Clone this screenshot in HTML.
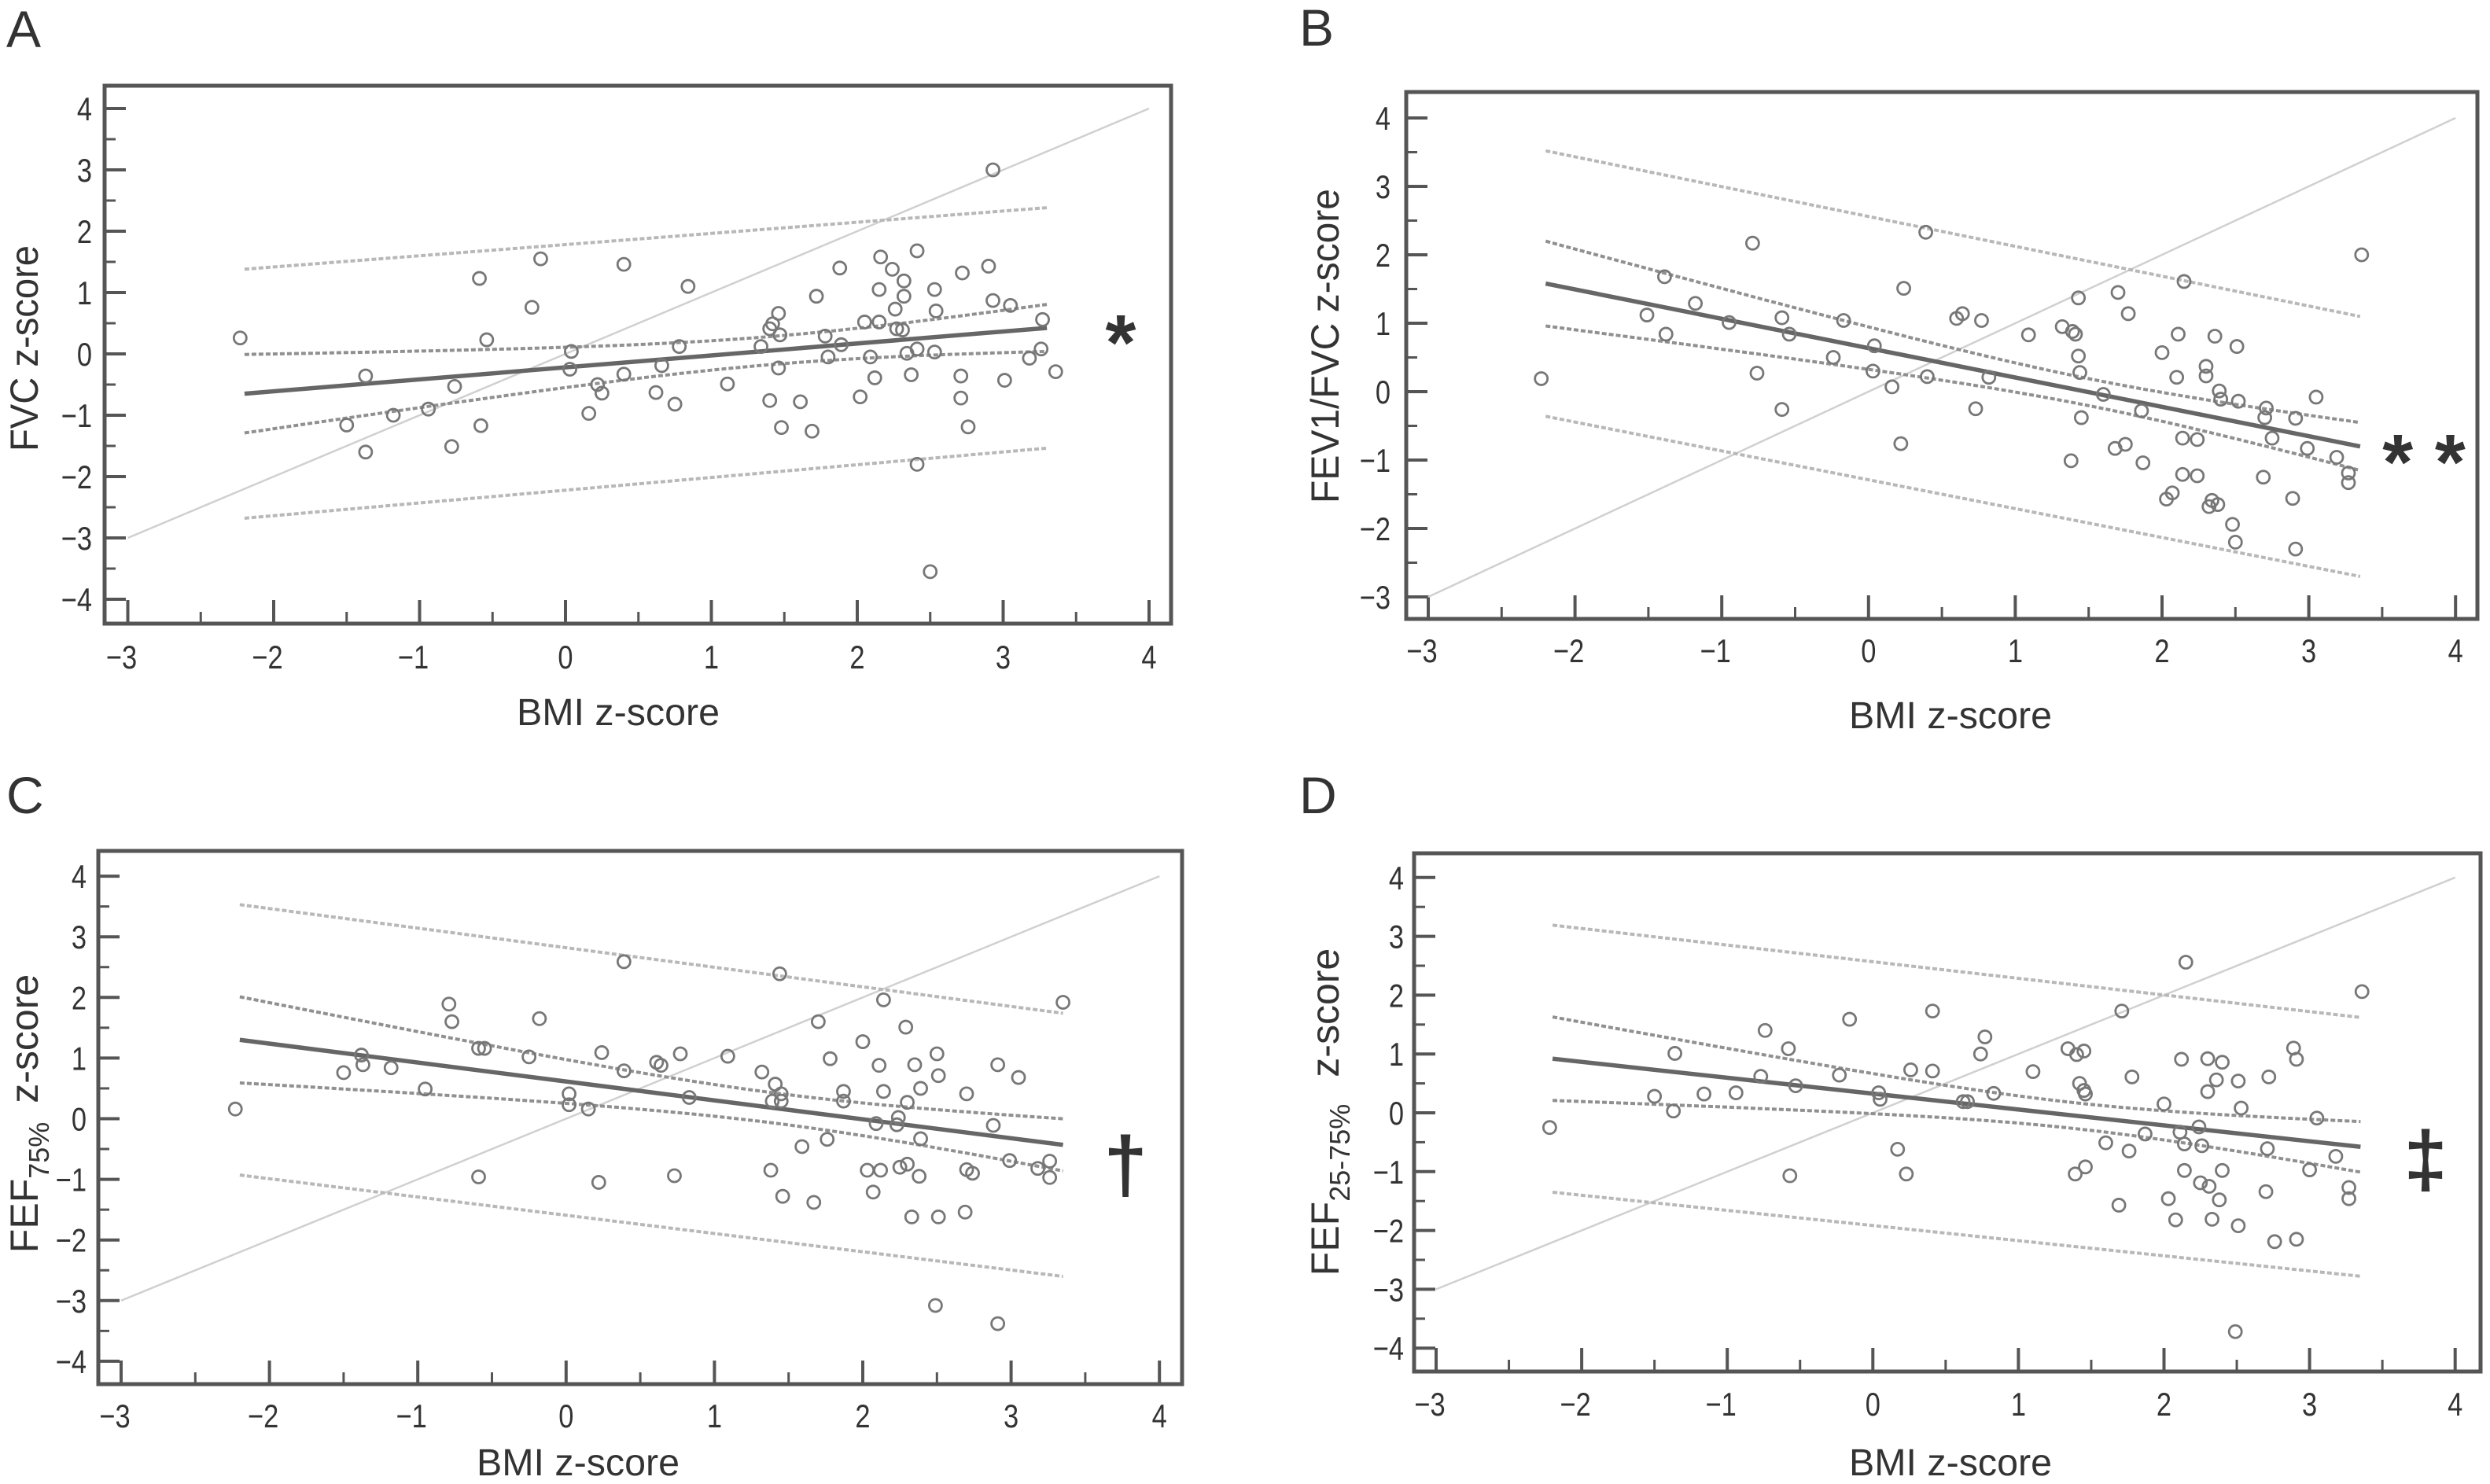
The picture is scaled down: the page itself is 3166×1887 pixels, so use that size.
<!DOCTYPE html>
<html><head><meta charset="utf-8"><style>
html,body{margin:0;padding:0;background:#fff;}
svg{display:block;}
text{font-family:"Liberation Sans",sans-serif;fill:#333;}
</style></head><body>
<svg id="fig" width="3166" height="1887" viewBox="0 0 3166 1887" xmlns="http://www.w3.org/2000/svg">
<text x="8" y="60" font-size="66">A</text>
<text x="1652" y="58" font-size="66">B</text>
<text x="8" y="1034" font-size="66">C</text>
<text x="1652" y="1034" font-size="66">D</text>

<text transform="translate(48,443) rotate(-90)" text-anchor="middle" font-size="50" textLength="262" lengthAdjust="spacingAndGlyphs">FVC z-score</text>
<text transform="translate(1702,440) rotate(-90)" text-anchor="middle" font-size="50" textLength="400" lengthAdjust="spacingAndGlyphs">FEV1/FVC z-score</text>
<text transform="translate(48,1416) rotate(-90)" text-anchor="middle" font-size="50">FEF<tspan font-size="36" dy="14">75%</tspan><tspan dy="-14" dx="24">z-score</tspan></text>
<text transform="translate(1702,1414) rotate(-90)" text-anchor="middle" font-size="50">FEF<tspan font-size="36" dy="14">25-75%</tspan><tspan dy="-14" dx="34">z-score</tspan></text>

<text x="786" y="922" text-anchor="middle" font-size="48" textLength="258" lengthAdjust="spacingAndGlyphs">BMI z-score</text>
<text x="2480" y="926" text-anchor="middle" font-size="48" textLength="258" lengthAdjust="spacingAndGlyphs">BMI z-score</text>
<text x="735" y="1876" text-anchor="middle" font-size="48" textLength="258" lengthAdjust="spacingAndGlyphs">BMI z-score</text>
<text x="2480" y="1876" text-anchor="middle" font-size="48" textLength="258" lengthAdjust="spacingAndGlyphs">BMI z-score</text>

<text x="1425" y="470" text-anchor="middle" font-size="100" font-weight="bold" fill="#333">*</text>
<text x="3082" y="622" text-anchor="middle" font-size="100" font-weight="bold" fill="#333">* *</text>
<text x="1431" y="1515" text-anchor="middle" font-size="100" font-weight="bold" fill="#333">†</text>
<text x="3084" y="1508" text-anchor="middle" font-size="100" font-weight="bold" fill="#333">‡</text>
</svg>
<script>
// ---- Panel A data ----
const aX=[-2.23,-1.37,-1.37,-1.5,-1.18,-0.94,-0.78,-0.76,-0.59,-0.58,-0.54,-0.23,-0.17,0.04,0.03,0.16,0.22,0.25,0.40,0.40,0.62,0.66,0.75,0.78,0.84,1.11,1.34,1.40,1.40,1.42,1.46,1.47,1.46,1.48,1.61,1.69,1.72,1.78,1.80,1.88,1.89,2.02,2.05,2.09,2.12,2.15,2.15,2.16,2.24,2.26,2.27,2.31,2.32,2.32,2.34,2.37,2.41,2.41,2.41,2.53,2.54,2.53,2.50,2.71,2.71,2.72,2.76,2.90,2.93,2.93,3.01,3.05,3.18,3.26,3.27,3.36];
const aY=[0.26,-0.36,-1.6,-1.16,-1.0,-0.9,-1.51,-0.53,1.23,-1.17,0.23,0.76,1.55,0.04,-0.25,-0.97,-0.5,-0.64,1.46,-0.33,-0.63,-0.19,-0.82,0.12,1.1,-0.49,0.12,0.41,-0.76,0.49,0.66,0.31,-0.23,-1.2,-0.78,-1.26,0.94,0.29,-0.05,1.4,0.15,-0.7,0.52,-0.05,-0.39,1.05,0.52,1.58,1.38,0.73,0.41,0.39,0.94,1.19,0.01,-0.34,0.08,1.68,-1.8,1.05,0.7,0.03,-3.55,-0.36,-0.72,1.32,-1.19,1.43,3.0,0.87,-0.43,0.79,-0.07,0.08,0.56,-0.29];
const aFit=[-0.22,0.195];
const aFitRange=[-2.2,3.3];
const aCI=[0.64,0.23,0.39];
const aPI=[2.03,1.96];
// ---- Panel B data ----
const bX=[-2.23,-1.51,-1.39,-1.38,-1.18,-0.95,-0.79,-0.76,-0.59,-0.59,-0.54,-0.17,-0.24,0.03,0.04,0.16,0.22,0.24,0.39,0.40,0.60,0.64,0.73,0.77,0.82,1.09,1.32,1.38,1.39,1.41,1.43,1.43,1.44,1.45,1.6,1.68,1.70,1.75,1.77,1.86,1.87,2.00,2.03,2.07,2.10,2.11,2.14,2.14,2.15,2.24,2.24,2.30,2.30,2.32,2.34,2.36,2.38,2.39,2.40,2.48,2.50,2.51,2.52,2.69,2.71,2.70,2.75,2.89,2.91,2.91,2.99,3.05,3.19,3.27,3.27,3.36];
const bY=[0.19,1.12,1.68,0.84,1.29,1.01,2.17,0.27,1.08,-0.26,0.84,1.04,0.5,0.3,0.67,0.07,-0.76,1.51,2.33,0.22,1.07,1.14,-0.25,1.04,0.21,0.83,0.95,-1.01,0.88,0.84,1.37,0.52,0.28,-0.38,-0.04,-0.83,1.45,-0.77,1.14,-0.28,-1.04,0.57,-1.57,-1.48,0.21,0.84,-0.68,-1.21,1.61,-0.7,-1.23,0.37,0.23,-1.68,-1.59,0.81,-1.65,0.01,-0.11,-1.94,-2.2,0.66,-0.14,-1.25,-0.24,-0.38,-0.68,-1.56,-2.3,-0.39,-0.83,-0.08,-0.96,-1.19,-1.33,2.0];
const bFit=[0.636,-0.429];
const bFitRange=[-2.2,3.35];
const bCI=[0.62,0.2,0.35];
const bPI=[1.94,1.9];
// ---- Panel C data ----
const cX=[-2.23,-1.50,-1.38,-1.37,-1.18,-0.95,-0.79,-0.77,-0.59,-0.59,-0.55,-0.25,-0.18,0.02,0.02,0.15,0.22,0.24,0.39,0.39,0.61,0.64,0.73,0.77,0.83,1.09,1.32,1.38,1.39,1.41,1.44,1.45,1.45,1.46,1.59,1.67,1.70,1.76,1.78,1.87,1.87,2.00,2.03,2.07,2.09,2.11,2.12,2.14,2.14,2.23,2.24,2.25,2.29,2.30,2.30,2.33,2.35,2.38,2.39,2.39,2.49,2.50,2.51,2.51,2.69,2.70,2.70,2.74,2.88,2.91,2.91,2.99,3.05,3.18,3.26,3.26,3.35];
const cY=[0.16,0.76,1.05,0.89,0.84,0.49,1.89,1.6,1.16,-0.96,1.16,1.02,1.65,0.41,0.23,0.16,-1.05,1.09,2.59,0.79,0.93,0.88,-0.94,1.07,0.35,1.03,0.77,-0.85,0.29,0.57,2.39,0.41,0.29,-1.28,-0.46,-1.38,1.6,-0.34,0.99,0.45,0.29,1.27,-0.85,-1.21,-0.08,0.88,-0.85,0.45,1.96,-0.1,0.02,-0.8,1.51,-0.75,0.27,-1.62,0.89,-0.95,0.5,-0.33,-3.08,1.07,0.71,-1.62,-1.54,-0.84,0.41,-0.9,-0.11,0.89,-3.38,-0.69,0.68,-0.82,-0.7,-0.97,1.92];
const cFit=[0.614,-0.312];
const cFitRange=[-2.2,3.35];
const cCI=[0.71,0.25,0.43];
const cPI=[2.23,2.17];
// ---- Panel D data ----
const dX=[-2.22,-1.50,-1.37,-1.36,-1.16,-0.94,-0.77,-0.74,-0.58,-0.57,-0.53,-0.23,-0.16,0.04,0.05,0.17,0.23,0.26,0.41,0.41,0.62,0.65,0.74,0.77,0.83,1.10,1.34,1.39,1.40,1.42,1.45,1.45,1.46,1.46,1.60,1.69,1.71,1.76,1.78,1.87,2.00,2.03,2.08,2.11,2.12,2.14,2.14,2.15,2.24,2.25,2.26,2.30,2.30,2.31,2.33,2.36,2.38,2.40,2.40,2.49,2.51,2.51,2.53,2.70,2.71,2.72,2.76,2.89,2.91,2.91,3.00,3.05,3.18,3.27,3.27,3.36];
const dY=[-0.25,0.28,0.03,1.01,0.32,0.34,0.62,1.4,1.09,-1.07,0.46,0.64,1.59,0.34,0.23,-0.62,-1.04,0.73,1.73,0.71,0.19,0.19,1.0,1.29,0.33,0.7,1.09,-1.04,0.99,0.5,1.05,0.38,0.32,-0.92,-0.51,-1.57,1.73,-0.65,0.61,-0.36,0.15,-1.46,-1.82,-0.33,0.91,-0.53,-0.98,2.56,-0.24,-1.19,-0.56,0.92,0.36,-1.25,-1.81,0.56,-1.48,0.86,-0.98,-3.72,-1.92,0.54,0.08,-1.34,-0.61,0.61,-2.19,1.1,0.91,-2.15,-0.97,-0.09,-0.74,-1.27,-1.46,2.06];
const dFit=[0.326,-0.27];
const dFitRange=[-2.2,3.35];
const dCI=[0.71,0.22,0.43];
const dPI=[2.27,2.2];
// ---- axis ticks ----
const xTicks=[-3,-2,-1,0,1,2,3,4];
const yTicksA=[-4,-3,-2,-1,0,1,2,3,4];
const yTicksB=[-3,-2,-1,0,1,2,3,4];

const NS='http://www.w3.org/2000/svg';
const svg=document.getElementById('fig');
function mk(tag,attrs,parent){const e=document.createElementNS(NS,tag);for(const k in attrs)e.setAttribute(k,attrs[k]);(parent||svg).appendChild(e);return e;}

const layouts={
 a:{box:[133,109,1489,793],x0:162.5,xu:185.5,y0:450,yu:78,lblR:117,xlb:848,yt:yTicksA},
 b:{box:[1788,117,3150,787],x0:1816,xu:186.6,y0:498,yu:87,lblR:1768,xlb:840,yt:yTicksB},
 c:{box:[125,1082,1503,1760],x0:154,xu:188.6,y0:1422.5,yu:77.1,lblR:110,xlb:1813,yt:yTicksA},
 d:{box:[1798,1085,3154,1744],x0:1826,xu:185.1,y0:1415,yu:74.8,lblR:1785,xlb:1798,yt:yTicksA}
};

function tickText(g,x,y,anchor,str,name){
  const tx=mk('text',{x:0,y:0,'text-anchor':anchor,'font-size':42,transform:'translate('+x+','+y+') scale(0.82,1)'},g);
  tx.textContent=str;
  
  
}

function drawPanel(id,X,Y,fit,fr,ci,pi){
  const L=layouts[id];
  const g=mk('g',{});
  
  
  const sx=v=>L.x0+(v+3)*L.xu;
  const sy=v=>L.y0-v*L.yu;
  const [l,t,r,b]=L.box;
  const yMin=L.yt[0],yMax=L.yt[L.yt.length-1];
  for(let v=yMin;v<=yMax+0.01;v+=0.5){
    const major=Math.abs(v-Math.round(v))<0.01;
    const tk=mk('line',{x1:l,x2:l+(major?27:14),y1:sy(v),y2:sy(v),stroke:'#555','stroke-width':major?4:3},g);
    
    
  }
  L.yt.forEach(v=>{
    tickText(g,L.lblR,sy(v)+15,'end',(v<0?'\u2212'+Math.abs(v):String(v)),'y-tick-label');
  });
  for(let v=-3;v<=4.01;v+=0.5){
    const major=Math.abs(v-Math.round(v))<0.01;
    const tk=mk('line',{x1:sx(v),x2:sx(v),y1:b,y2:b-(major?30:15),stroke:'#555','stroke-width':major?4:3},g);
    
    
  }
  xTicks.forEach(v=>{
    tickText(g,sx(v)-(v<0?8:0),L.xlb+2,'middle',(v<0?'\u2212'+Math.abs(v):String(v)),'x-tick-label');
  });
  const idl=mk('line',{x1:sx(-3),y1:sy(-3),x2:sx(4),y2:sy(4),stroke:'#d0d0d0','stroke-width':2.5},g);
  
  
  const f=x=>fit[0]+fit[1]*x;
  [1,-1].forEach(s=>{
    const x1=fr[0],x2=fr[1];
    const p=mk('line',{x1:sx(x1),y1:sy(f(x1)+s*pi[0]),x2:sx(x2),y2:sy(f(x2)+s*pi[1]),stroke:'#b8b8b8','stroke-width':4,'stroke-dasharray':'6 3'},g);
    
    
  });
  const xs=[-2.2,1.3,3.35],hs=ci.map(h=>h*h);
  const h2=x=>{let s=0;for(let i=0;i<3;i++){let term=hs[i];for(let j=0;j<3;j++)if(j!==i)term*=(x-xs[j])/(xs[i]-xs[j]);s+=term;}return Math.max(s,0.001);};
  [1,-1].forEach(s=>{
    const pts=[];
    for(let i=0;i<=60;i++){const x=fr[0]+(fr[1]-fr[0])*i/60;pts.push(sx(x).toFixed(1)+','+sy(f(x)+s*Math.sqrt(h2(x))).toFixed(1));}
    const p=mk('polyline',{points:pts.join(' '),fill:'none',stroke:'#909090','stroke-width':4,'stroke-dasharray':'6 3'},g);
    
    
  });
  const fl=mk('line',{x1:sx(fr[0]),y1:sy(f(fr[0])),x2:sx(fr[1]),y2:sy(f(fr[1])),stroke:'#666','stroke-width':5.5},g);
  
  
  X.forEach((x,i)=>{
    const c=mk('circle',{cx:sx(x),cy:sy(Y[i]),r:8,fill:'none',stroke:'#777','stroke-width':2.8},g);
    
    
  });
  const bx=mk('rect',{x:l,y:t,width:r-l,height:b-t,fill:'none',stroke:'#555','stroke-width':5},g);
  
  
}
drawPanel('a',aX,aY,aFit,aFitRange,aCI,aPI);
drawPanel('b',bX,bY,bFit,bFitRange,bCI,bPI);
drawPanel('c',cX,cY,cFit,cFitRange,cCI,cPI);
drawPanel('d',dX,dY,dFit,dFitRange,dCI,dPI);
</script>
</body></html>
